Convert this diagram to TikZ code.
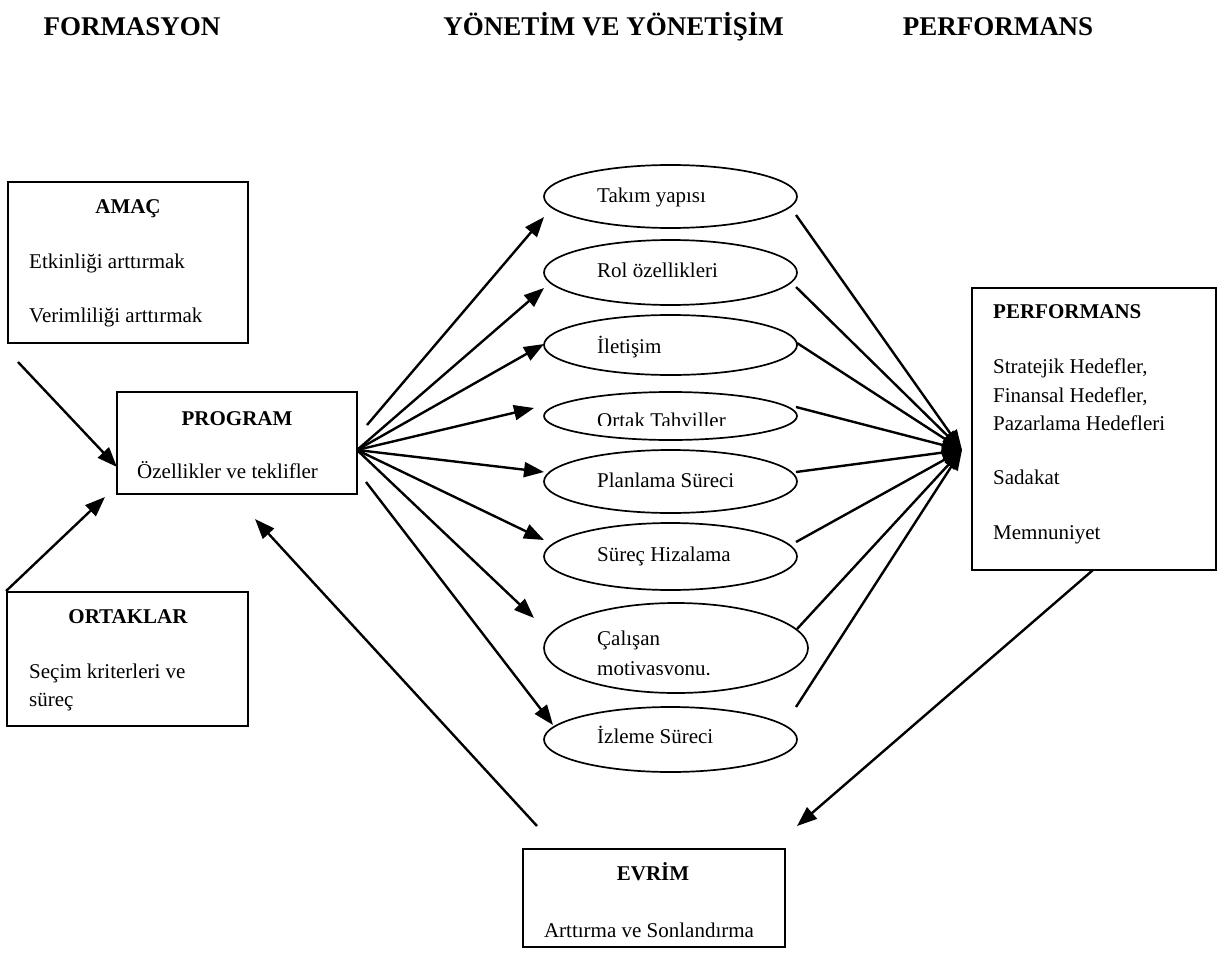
\documentclass[tikz,border=0pt]{standalone}
\usepackage{fontspec}
\setmainfont{Liberation Serif}
\usetikzlibrary{arrows.meta,shapes.geometric}

\tikzset{
  box/.style={draw, line width=1.9pt, inner sep=0pt},
  oval/.style={draw, ellipse, line width=1.7pt, inner sep=0pt},
  txt/.style={anchor=base west, inner sep=0pt, font=\fontsize{21}{28}\selectfont},
  head/.style={anchor=base, inner sep=0pt, font=\fontsize{21}{28}\selectfont\bfseries},
  headl/.style={anchor=base west, inner sep=0pt, font=\fontsize{21}{28}\selectfont\bfseries},
  title/.style={anchor=base, inner sep=0pt, font=\fontsize{27}{32}\selectfont\bfseries},
  link/.style={line width=2.4pt, -{Triangle[length=20pt,width=15pt]}},
}

\begin{document}
\begin{tikzpicture}[x=1pt,y=-1pt]
\useasboundingbox (0,0) rectangle (1222,952);

% column titles
\node[title] (t-form) at (132,36) {FORMASYON};
\node[title, anchor=base east] (t-yon) at (784,36) {YÖNETİM VE YÖNETİŞİM};
\node[title] (t-perf) at (998,36) {PERFORMANS};

% boxes
\node[box, minimum width=240pt, minimum height=161pt] (amac) at (128,262.5) {};
\node[head] at (128,213) {AMAÇ};
\node[txt] at (29,268) {Etkinliği arttırmak};
\node[txt] at (29,322) {Verimliliği arttırmak};

\node[box, minimum width=240pt, minimum height=102pt] (prog) at (237,443) {};
\node[head] at (237,425) {PROGRAM};
\node[txt] at (137,478) {Özellikler ve teklifler};

\node[box, minimum width=241pt, minimum height=134pt] (ort) at (127.5,659) {};
\node[head] at (128,623) {ORTAKLAR};
\node[txt] at (29,678) {Seçim kriterleri ve};
\node[txt] at (29,706) {süreç};

\node[box, minimum width=244pt, minimum height=282pt] (perf) at (1094,429) {};
\node[headl] at (993,318) {PERFORMANS};
\node[txt] at (993,373) {Stratejik Hedefler,};
\node[txt] at (993,402) {Finansal Hedefler,};
\node[txt] at (993,430) {Pazarlama Hedefleri};
\node[txt] at (993,484) {Sadakat};
\node[txt] at (993,539) {Memnuniyet};

\node[box, minimum width=262pt, minimum height=98pt] (evrim) at (654,898) {};
\node[head] at (653,880) {EVRİM};
\node[head, font=\fontsize{21}{28}\selectfont] at (649,937) {Arttırma ve Sonlandırma};

% ellipses
\node[oval, minimum width=253pt, minimum height=63pt] (e1) at (670.5,196.5) {};
\node[oval, minimum width=253pt, minimum height=65pt] (e2) at (670.5,272.5) {};
\node[oval, minimum width=253pt, minimum height=60pt] (e3) at (670.5,345) {};
\node[oval, minimum width=253pt, minimum height=48pt] (e4) at (670.5,416) {};
\node[oval, minimum width=253pt, minimum height=63pt] (e5) at (670.5,481.5) {};
\node[oval, minimum width=253pt, minimum height=67pt] (e6) at (670.5,556.5) {};
\node[oval, minimum width=264pt, minimum height=90pt] (e7) at (676,648) {};
\node[oval, minimum width=253pt, minimum height=65pt] (e8) at (670.5,739.5) {};

\node[txt] at (597,202) {Takım yapısı};
\node[txt] at (597,277) {Rol özellikleri};
\node[txt] at (597,353) {İletişim};
\begin{scope}
  \clip (590,400) rectangle (760,425);
  \node[txt] at (597,427) {Ortak Tahviller};
\end{scope}
\node[txt] at (597,487) {Planlama Süreci};
\node[txt] at (597,561) {Süreç Hizalama};
\node[txt] at (597,645) {Çalışan};
\begin{scope}
  \clip (590,650) rectangle (760,674);
  \node[txt] at (597,675) {motivasyonu.};
\end{scope}
\node[txt] at (597,743) {İzleme Süreci};

% connector ends
\coordinate (hub) at (357,450);
\coordinate (s1) at (367,425);
\coordinate (s8) at (366,482);
\coordinate (a1) at (544,217);
\coordinate (a2) at (544,288);
\coordinate (a3) at (544,344);
\coordinate (a4) at (534,408);
\coordinate (a5) at (544,472);
\coordinate (a6) at (544,540);
\coordinate (a7) at (534,618);
\coordinate (a8) at (553,725);
\coordinate (b1) at (796,215);
\coordinate (b2) at (796,287);
\coordinate (b3) at (797,343);
\coordinate (b4) at (796,407);
\coordinate (b5) at (796,472);
\coordinate (b6) at (796,542);
\coordinate (b7) at (797,629);
\coordinate (b8) at (796,707);
\coordinate (conv) at (962,450);
\coordinate (amac-out) at (18,362);
\coordinate (prog-in1) at (117,467);
\coordinate (prog-in2) at (105,497);
\coordinate (prog-in3) at (255,519);
\coordinate (evrim-out) at (537,826);
\coordinate (perf-out) at (1093,570);
\coordinate (evrim-in) at (797,826);

% program to the management factors
\draw[link] (s1) -- (a1);
\foreach \k in {2,...,7} \draw[link] (hub) -- (a\k);
\draw[link] (s8) -- (a8);

% management factors to performance
\foreach \k in {1,...,8} \draw[link] (b\k) -- (conv);

% feedback and inputs
\draw[link] (amac-out) -- (prog-in1);
\draw[link] (ort.north west) -- (prog-in2);
\draw[link] (evrim-out) -- (prog-in3);
\draw[link] (perf-out) -- (evrim-in);
\end{tikzpicture}
\end{document}
